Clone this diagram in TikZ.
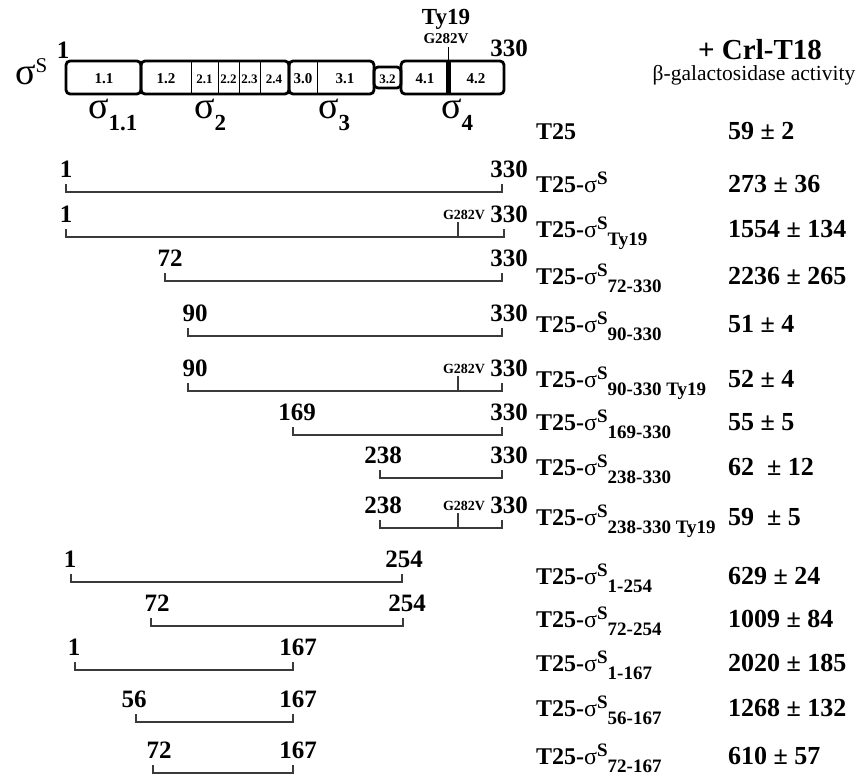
\documentclass[tikz,border=0pt]{standalone}
\usepackage{fontspec}
\setmainfont{Liberation Serif}
\usepackage{tikz}
\definecolor{InkBlack}{HTML}{000000}
\definecolor{RuleGray}{HTML}{3A3A3A}
\newcommand{\sg}{{\mdseries σ}}
\newcommand{\supS}{\raisebox{8pt}{\fontsize{19}{19}\selectfont S}}
\newcommand{\subr}[1]{\raisebox{-8pt}{\fontsize{19}{19}\selectfont #1}}

\begin{document}
\begin{tikzpicture}[x=1pt, y=-1pt,
    dom/.style={draw=InkBlack, line width=2.8pt, rounded corners=4pt},
    seg/.style={draw=InkBlack, line width=0.8pt},
    frag/.style={draw=RuleGray, line width=1.3pt},
    num/.style={font=\fontsize{25}{25}\selectfont\bfseries, anchor=base, inner sep=0pt},
    reg/.style={font=\fontsize{15}{15}\selectfont\bfseries, inner sep=0pt},
    narrow/.style={font=\fontsize{13}{13}\selectfont\bfseries, inner sep=0pt},
    mut/.style={font=\fontsize{14}{14}\selectfont\bfseries, anchor=base, inner sep=0pt},
    construct/.style={font=\fontsize{24}{24}\selectfont\bfseries, anchor=base west, inner sep=0pt},
    activity/.style={font=\fontsize{26}{26}\selectfont\bfseries, anchor=base west, inner sep=0pt},
    bigsig/.style={font=\fontsize{38}{38}\selectfont, anchor=base west, inner sep=0pt}]
    \useasboundingbox (0,0) rectangle (856,777);

    % Domain map of sigma S
    \draw[dom] (66,61) rectangle (141,94);
    \draw[dom] (141,61) rectangle (289,94);
    \draw[dom] (289,61) rectangle (374,94);
    \draw[dom] (374,67) rectangle (401,88);
    \draw[dom] (401,61) rectangle (504,94);
    \foreach \x in {191,218,239,260,317} {
        \draw[seg] (\x,61) -- (\x,94);
    }
    \fill[InkBlack] (446,61) rectangle (451,94);
    \foreach \x/\t [count=\i] in {104/1.1,166/1.2,303/3.0,345/3.1,425/4.1,476/4.2} {
        \node[reg] (r\i) at (\x,79) {\t};
    }
    \foreach \x/\t [count=\i] in {204.5/2.1,228.5/2.2,249.5/2.3,274/2.4,387.5/3.2} {
        \node[narrow] (rn\i) at (\x,79) {\t};
    }
    \node[num] (mapstart) at (63,58) {1};
    \node[num] (mapend) at (509,56) {330};
    \node[font=\fontsize{23}{23}\selectfont\bfseries, inner sep=0pt] (ty) at (446,19) {Ty19};
    \node[font=\fontsize{15}{15}\selectfont\bfseries, inner sep=0pt] (tymut) at (446,39) {G282V};
    \coordinate (tytop) at (448,47);
    \coordinate (tybot) at (448,61);
    \draw[seg, line width=1pt] (tytop) -- (tybot);
    \node[font=\fontsize{38}{38}\selectfont, anchor=base west, inner sep=0pt] (sigS) at (15,84) {σ\raisebox{12pt}{\fontsize{21}{21}\selectfont S}};

    % Domain names
    \foreach \x/\t [count=\i] in {88/1.1,194/2,318/3,441/4} {
        \node[bigsig] (d\i) at (\x,118) {σ\raisebox{-12pt}{\fontsize{23}{23}\selectfont\bfseries\t}};
    }

    % Header
    \node[font=\fontsize{29}{29}\selectfont\bfseries, inner sep=0pt] (hdr) at (760,50) {+ Crl-T18};
    \node[font=\fontsize{21.5}{21.5}\selectfont, inner sep=0pt] (hdrsub) at (754,75) {β-galactosidase activity};

    % Fragments
    \foreach \y/\xa/\xb/\la/\lb/\na/\nb/\m [count=\i] in {
        192/66/502/66/509/1/330/0,
        237/66/504/66/509/1/330/1,
        281/165/502/170/509/72/330/0,
        336/188/502/195/509/90/330/0,
        391/188/502/195/509/90/330/1,
        435/293/502/297/509/169/330/0,
        478/380/502/383/509/238/330/0,
        528/380/502/383/509/238/330/1,
        582/71/402/70/404/1/254/0,
        626/151/403/157/407/72/254/0,
        670/75/293/74/298/1/167/0,
        722/136/293/134/298/56/167/0,
        773/153/293/159/298/72/167/0} {
        \coordinate (s\i) at (\xa,\y);
        \coordinate (e\i) at (\xb,\y);
        \draw[frag] ([yshift=8pt]s\i) -- (s\i) -- (e\i) -- ([yshift=8pt]e\i);
        \node[num] (na\i) at (\la,\y-15) {\na};
        \node[num] (nb\i) at (\lb,\y-15) {\nb};
        \ifnum\m=1
            \coordinate (g\i) at (458,\y);
            \draw[frag] (g\i) -- ([yshift=15pt]g\i);
            \node[mut] (gl\i) at (464,\y-18) {G282V};
        \fi
    }

    % Constructs and activities
    \foreach \y/\lab/\val [count=\i] in {
        139/{T25}/{59 ± 2},
        192/{T25-\sg\supS}/{273 ± 36},
        237/{T25-\sg\supS\subr{Ty19}}/{1554 ± 134},
        284/{T25-\sg\supS\subr{72-330}}/{2236 ± 265},
        332/{T25-\sg\supS\subr{90-330}}/{51 ± 4},
        387/{T25-\sg\supS\subr{90-330 Ty19}}/{52 ± 4},
        430/{T25-\sg\supS\subr{169-330}}/{55 ± 5},
        475/{T25-\sg\supS\subr{238-330}}/{62~~± 12},
        525/{T25-\sg\supS\subr{238-330 Ty19}}/{59~~± 5},
        584/{T25-\sg\supS\subr{1-254}}/{629 ± 24},
        627/{T25-\sg\supS\subr{72-254}}/{1009 ± 84},
        671/{T25-\sg\supS\subr{1-167}}/{2020 ± 185},
        716/{T25-\sg\supS\subr{56-167}}/{1268 ± 132},
        764/{T25-\sg\supS\subr{72-167}}/{610 ± 57}} {
        \node[construct] (c\i) at (536,\y) {\lab};
        \node[activity] (v\i) at (728,\y) {\val};
    }
\end{tikzpicture}
\end{document}
